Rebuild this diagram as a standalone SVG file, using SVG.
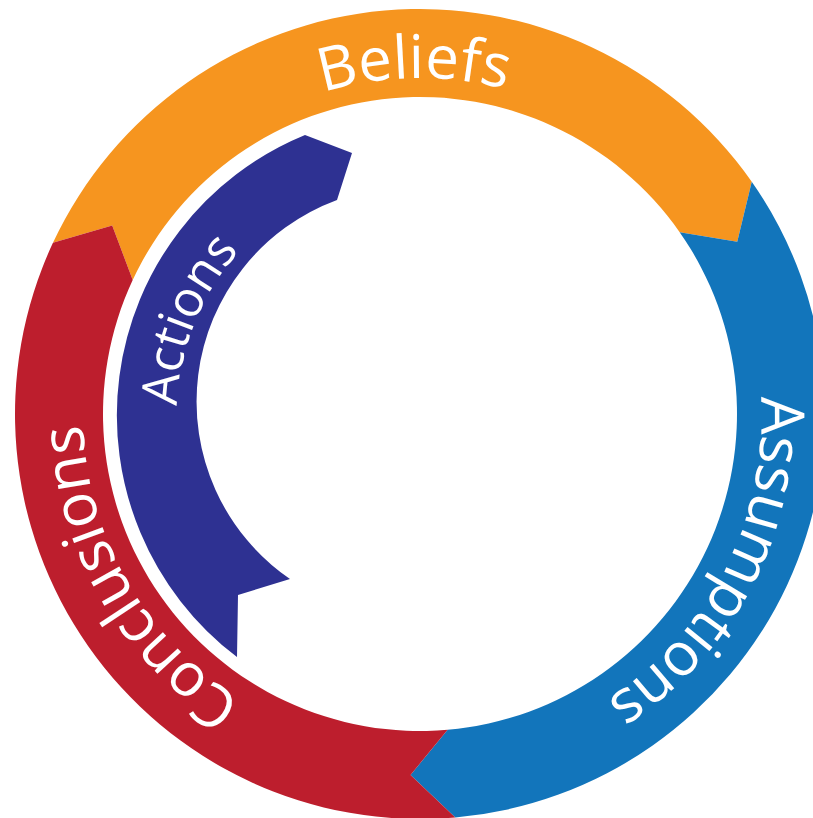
<svg xmlns="http://www.w3.org/2000/svg" width="813" height="818" viewBox="0 0 813 818">
<style>
.lbl{font-family:"Open Sans","Noto Sans","Liberation Sans",sans-serif;fill:#ffffff;font-size:60px}
.act{font-size:50px}
</style>
<defs>
<path id="pBeliefs" d="M 88.14,361.44 A 336 336 0 0 1 749.83,349.89"/>
<path id="pAssumptions" d="M 622.81,144.86 A 336 336 0 0 1 321.47,736.27"/>
<path id="pConclusions" d="M 535.26,730.68 A 337 337 0 0 1 203.38,155.84"/>
<path id="pActions" d="M 291.23,620.08 A 243 243 0 0 1 470.52,176.31"/>
</defs>
<rect width="813" height="818" fill="#ffffff"/>
<g id="beliefs">
<path fill="#F6951F" d="M 52.95,242.84 A 405 405 0 0 1 751.76,181.70 L 737.25,241.75 L 679.67,232.18 A 317 317 0 0 0 132.70,280.03 L 112.20,225.38 Z"/>
<text class="lbl"><textPath href="#pBeliefs" startOffset="50%" text-anchor="middle">Beliefs</textPath></text>
</g>
<g id="assumptions">
<path fill="#1275BB" d="M 751.76,181.70 A 405 405 0 0 1 455.30,817.46 L 410.55,774.88 L 447.63,729.79 A 317 317 0 0 0 679.67,232.18 L 737.25,241.75 Z"/>
<text class="lbl" letter-spacing="-0.5"><textPath href="#pAssumptions" startOffset="50%" text-anchor="middle">Assumptions</textPath></text>
</g>
<g id="conclusions">
<path fill="#BD1E2D" d="M 455.30,817.46 A 405 405 0 0 1 52.95,242.84 L 112.20,225.38 L 132.70,280.03 A 317 317 0 0 0 447.63,729.79 L 410.55,774.88 Z"/>
<text class="lbl" letter-spacing="-0.5"><textPath href="#pConclusions" startOffset="50%" text-anchor="middle">Conclusions</textPath></text>
</g>
<g id="actions">
<path fill="#2E3192" d="M 237,657 A 303 303 0 0 1 305,135 L 352,153 L 337,200 A 215 215 0 0 0 290,579 L 238,595 Z"/>
<text class="lbl act"><textPath href="#pActions" startOffset="50%" text-anchor="middle">Actions</textPath></text>
</g>
<g id="connectors"/>
</svg>
